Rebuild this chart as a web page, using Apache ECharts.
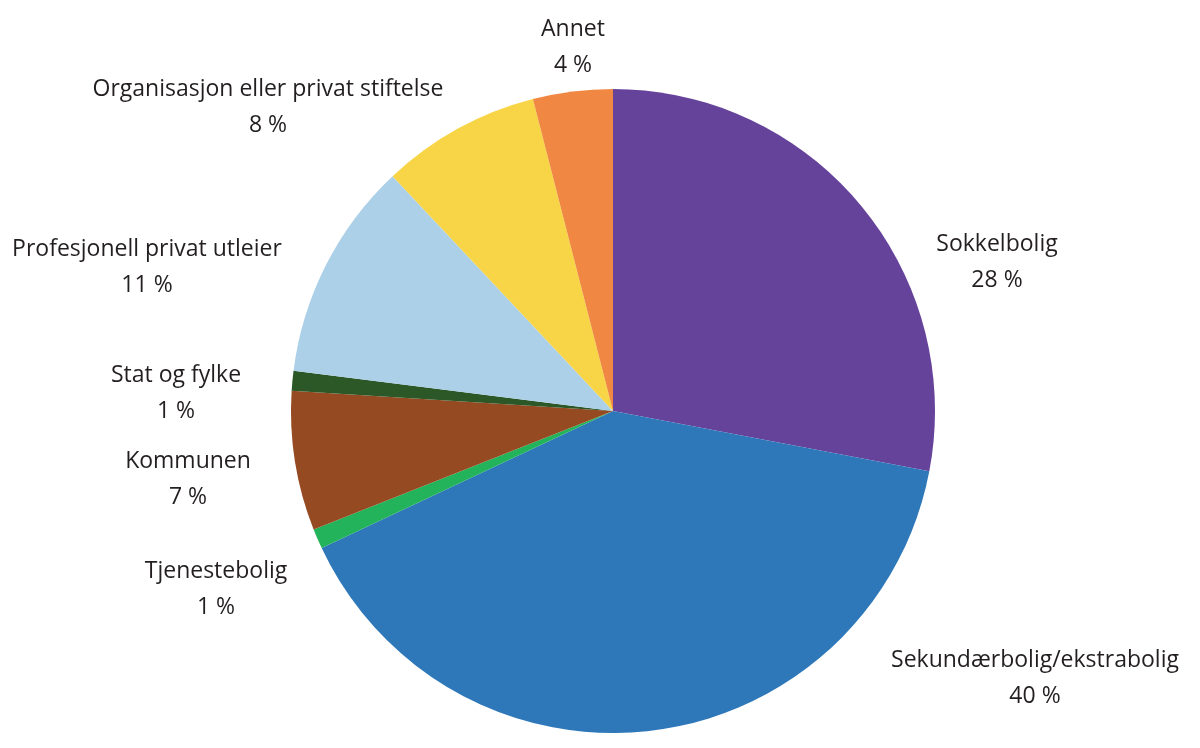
<!DOCTYPE html>
<html>
<head>
<meta charset="utf-8">
<script src="https://cdn.jsdelivr.net/npm/echarts@6/dist/echarts.min.js"></script>
<style>html,body{margin:0;background:#fff}#chart{width:1200px;height:748px}</style>
</head>
<body>
<div id="chart"></div>
<script>
const categories = ['Sokkelbolig', 'Sekundærbolig/ekstrabolig', 'Tjenestebolig', 'Kommunen',
  'Stat og fylke', 'Profesjonell privat utleier', 'Organisasjon eller privat stiftelse', 'Annet'];
const values = [28, 40, 1, 7, 1, 11, 8, 4];
const colors = ['#65439a', '#2e78b9', '#23b35b', '#964a21', '#2c5727', '#acd0e8', '#f8d547', '#f08743'];
// label centres in the picture
const labelPos = [[997, 262], [1035, 678], [216, 589], [188, 479], [176, 393], [147, 267], [268, 107], [573, 47]];

const chart = echarts.init(document.getElementById('chart'));
chart.setOption({
  animation: false,
  series: [{
    type: 'pie',
    center: [613, 411],
    radius: [0, 322],
    startAngle: 90,
    clockwise: true,
    data: categories.map((name, i) => ({ name, value: values[i], itemStyle: { color: colors[i] } })),
    label: {
      position: 'outside',
      formatter: '{b}\n{c} %',
      fontFamily: 'Open Sans',
      fontSize: 23,
      lineHeight: 36,
      color: '#231f20',
      align: 'center',
    },
    labelLine: { show: false },
    labelLayout: (p) => ({
      x: labelPos[p.dataIndex][0],
      y: labelPos[p.dataIndex][1],
      align: 'center',
      verticalAlign: 'middle',
    }),
  }],
});
</script>
</body>
</html>
